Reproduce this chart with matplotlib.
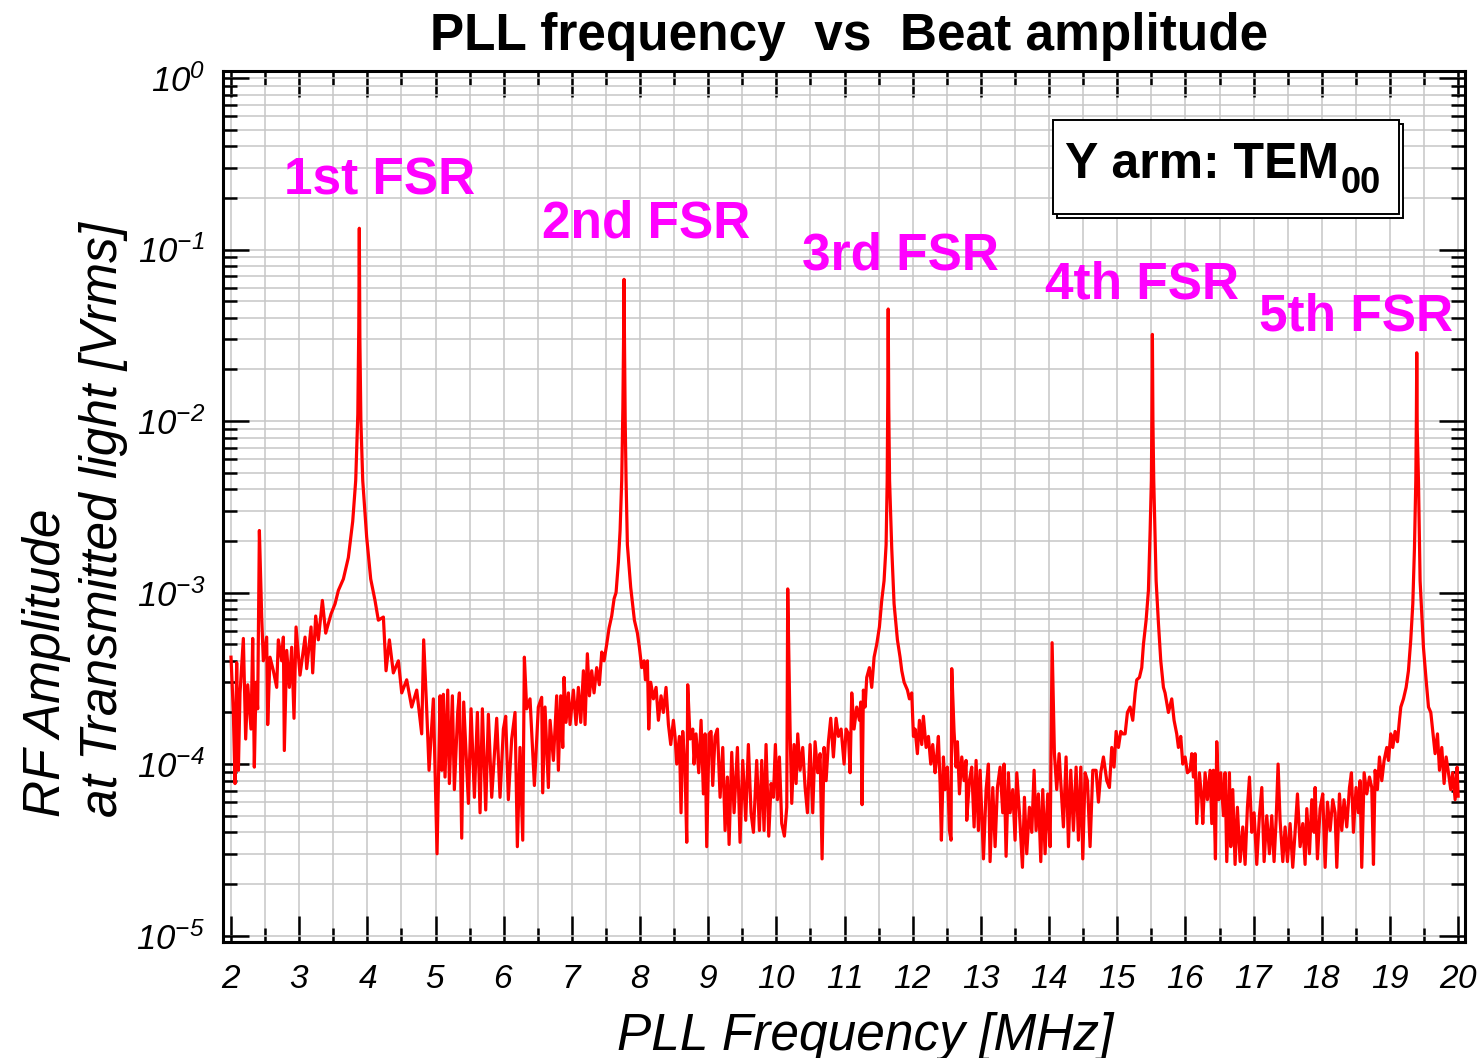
import numpy as np
import matplotlib
matplotlib.use("Agg")
import matplotlib.pyplot as plt
from matplotlib.ticker import FixedLocator, FuncFormatter, NullFormatter
from matplotlib.patches import Rectangle

# spectrum, split between the FSR peaks
# frequency in MHz, amplitude in Vrms
f_seg1 = [2.000, 2.034, 2.059, 2.083, 2.108, 2.132, 2.181, 2.215, 2.245, 2.293,
          2.318, 2.342, 2.367, 2.391, 2.416, 2.450, 2.474, 2.523, 2.538, 2.572,
          2.621, 2.670, 2.694, 2.743, 2.768, 2.782, 2.817, 2.856, 2.890, 2.924,
          2.954, 3.012, 3.086, 3.110, 3.174, 3.198, 3.242, 3.281, 3.340, 3.389,
          3.467, 3.526, 3.575, 3.648, 3.721, 3.785, 3.829, 3.860, 3.874, 3.882]
a_seg1 = [4.2e-4, 2.0e-4, 7.7e-5, 3.9e-4, 9.2e-5, 2.6e-4, 5.4e-4, 1.4e-4, 2.9e-4, 1.6e-4,
          5.4e-4, 9.6e-5, 3.0e-4, 2.1e-4, 2.3e-3, 7.2e-4, 4.0e-4, 5.5e-4, 1.7e-4, 4.2e-4,
          3.5e-4, 2.8e-4, 5.3e-4, 4.0e-4, 5.5e-4, 1.2e-4, 4.6e-4, 2.8e-4, 4.8e-4, 1.85e-4,
          6.3e-4, 3.3e-4, 5.5e-4, 3.6e-4, 6.3e-4, 3.4e-4, 7.3e-4, 5.3e-4, 9.0e-4, 5.8e-4,
          7.5e-4, 8.6e-4, 1.03e-3, 1.2e-3, 1.6e-3, 2.6e-3, 4.5e-3, 1.1e-2, 3.5e-2, 1.33e-1]

f_seg2 = [3.890, 3.905, 3.932, 3.990, 4.049, 4.112, 4.161, 4.235, 4.274, 4.323,
          4.381, 4.455, 4.504, 4.577, 4.650, 4.724, 4.797, 4.826, 4.870, 4.905,
          4.968, 5.022, 5.066, 5.091, 5.115, 5.139, 5.179, 5.203, 5.247, 5.276,
          5.325, 5.350, 5.384, 5.413, 5.482, 5.521, 5.570, 5.614, 5.653, 5.687,
          5.736, 5.775, 5.824, 5.897, 5.946, 5.995, 6.029, 6.068, 6.117, 6.166,
          6.200, 6.239, 6.279, 6.303, 6.337, 6.386, 6.450, 6.508, 6.557, 6.572,
          6.606, 6.631, 6.655, 6.680, 6.729, 6.777, 6.802, 6.836, 6.866, 6.885,
          6.914, 6.949, 6.973, 7.022, 7.061, 7.095, 7.130, 7.169, 7.193, 7.227,
          7.257, 7.291, 7.325, 7.364, 7.403, 7.438, 7.472, 7.511, 7.545, 7.584,
          7.619, 7.648, 7.682, 7.707, 7.731, 7.748, 7.758, 7.765]
a_seg2 = [3.0e-2, 1.0e-2, 4.5e-3, 2.1e-3, 1.2e-3, 9.0e-4, 6.9e-4, 7.2e-4, 3.5e-4, 5.3e-4,
          3.4e-4, 4.0e-4, 2.6e-4, 3.1e-4, 2.15e-4, 2.7e-4, 1.5e-4, 5.3e-4, 2.1e-4, 9.2e-5,
          2.4e-4, 3.0e-5, 2.5e-4, 9.2e-5, 2.55e-4, 8.4e-5, 2.7e-4, 7.7e-5, 2.5e-4, 7.1e-5,
          2.0e-4, 2.6e-4, 3.7e-5, 2.3e-4, 5.9e-5, 2.1e-4, 6.4e-5, 2.0e-4, 5.2e-5, 2.1e-4,
          5.4e-5, 1.95e-4, 6.4e-5, 1.85e-4, 6.4e-5, 1.6e-4, 1.9e-4, 6.2e-5, 1.4e-4, 2.0e-4,
          3.3e-5, 1.25e-4, 3.6e-5, 4.2e-4, 2.1e-4, 2.4e-4, 7.5e-5, 2.15e-4, 2.45e-4, 6.8e-5,
          2.15e-4, 1.25e-4, 7.3e-5, 1.8e-4, 1.05e-4, 2.5e-4, 9.2e-5, 2.5e-4, 1.25e-4, 3.2e-4,
          1.75e-4, 2.6e-4, 1.7e-4, 2.7e-4, 1.7e-4, 2.8e-4, 1.75e-4, 3.5e-4, 1.7e-4, 4.4e-4,
          2.5e-4, 3.5e-4, 2.6e-4, 3.65e-4, 2.9e-4, 4.5e-4, 4.0e-4, 5.0e-4, 6.2e-4, 7.3e-4,
          9.2e-4, 1.0e-3, 1.5e-3, 2.3e-3, 4.5e-3, 1.2e-2, 3.0e-2, 6.7e-2]

f_seg3 = [7.772, 7.782, 7.795, 7.814, 7.863, 7.917, 7.961, 7.990, 8.024, 8.059,
          8.078, 8.108, 8.127, 8.156, 8.196, 8.235, 8.269, 8.308, 8.342, 8.381,
          8.416, 8.450, 8.489, 8.513, 8.538, 8.577, 8.601, 8.626, 8.660, 8.685,
          8.699, 8.734, 8.773, 8.792, 8.821, 8.861, 8.895, 8.929, 8.954, 8.978,
          9.012, 9.042, 9.066, 9.100, 9.135, 9.174, 9.213, 9.247, 9.281, 9.306,
          9.345, 9.379, 9.428, 9.467, 9.506, 9.550, 9.589, 9.628, 9.663, 9.711,
          9.751, 9.785, 9.819, 9.848, 9.888, 9.922, 9.956, 9.985, 10.015, 10.044,
          10.078, 10.117, 10.152, 10.166, 10.201, 10.225, 10.259, 10.289, 10.313, 10.347,
          10.386, 10.421, 10.455, 10.494, 10.533, 10.567, 10.606, 10.641, 10.670, 10.699,
          10.729, 10.763, 10.797, 10.836, 10.875, 10.910, 10.949, 10.993, 11.022, 11.056,
          11.081, 11.105, 11.139, 11.178, 11.218, 11.237, 11.257, 11.276, 11.301, 11.325,
          11.364, 11.398, 11.433, 11.472, 11.511, 11.545, 11.579, 11.609, 11.625, 11.633,
          11.640]
a_seg3 = [2.8e-2, 1.0e-2, 4.5e-3, 1.9e-3, 1.07e-3, 6.9e-4, 5.8e-4, 4.8e-4, 3.65e-4, 4.0e-4,
          3.1e-4, 4.0e-4, 1.6e-4, 3.0e-4, 2.4e-4, 2.8e-4, 1.8e-4, 2.5e-4, 2.0e-4, 2.8e-4,
          1.7e-4, 1.3e-4, 1.8e-4, 1.45e-4, 1.0e-4, 1.45e-4, 5.2e-5, 1.55e-4, 9.2e-5, 3.5e-5,
          2.9e-4, 1.4e-4, 1.6e-4, 1.0e-4, 1.5e-4, 8.9e-5, 1.8e-4, 6.7e-5, 1.5e-4, 3.3e-5,
          1.5e-4, 1.55e-4, 7.5e-5, 1.45e-4, 1.6e-4, 6.4e-5, 1.25e-4, 4.1e-5, 8.4e-5, 3.4e-5,
          1.17e-4, 5.2e-5, 1.25e-4, 3.5e-5, 1.05e-4, 4.7e-5, 1.3e-4, 5.2e-5, 4.0e-5, 1.05e-4,
          4.1e-5, 1.05e-4, 4.1e-5, 1.3e-4, 3.8e-5, 7.7e-5, 6.4e-5, 1.3e-4, 6.2e-5, 1.1e-4,
          4.5e-5, 3.8e-5, 5.6e-5, 1.05e-3, 1.55e-4, 5.9e-5, 1.3e-4, 7.7e-5, 1.5e-4, 9.2e-5,
          1.25e-4, 7.3e-5, 5.2e-5, 1.3e-4, 5.2e-5, 1.35e-4, 8.9e-5, 1.15e-4, 2.8e-5, 1.25e-4,
          8.0e-5, 1.35e-4, 1.85e-4, 1.1e-4, 1.85e-4, 1.45e-4, 1.6e-4, 1.0e-4, 1.6e-4, 1.5e-4,
          8.9e-5, 2.6e-4, 1.6e-4, 2.15e-4, 1.8e-4, 2.3e-4, 5.8e-5, 2.7e-4, 2.15e-4, 3.2e-4,
          3.65e-4, 2.8e-4, 4.2e-4, 5.0e-4, 6.3e-4, 9.0e-4, 1.17e-3, 1.9e-3, 4.5e-3, 1.3e-2,
          4.5e-2]

f_seg4 = [11.648, 11.660, 11.692, 11.726, 11.775, 11.814, 11.839, 11.873, 11.922, 11.951,
          11.985, 12.010, 12.034, 12.068, 12.098, 12.132, 12.156, 12.196, 12.230, 12.264,
          12.293, 12.328, 12.352, 12.376, 12.401, 12.420, 12.450, 12.474, 12.508, 12.538,
          12.562, 12.572, 12.606, 12.636, 12.655, 12.685, 12.719, 12.753, 12.782, 12.792,
          12.831, 12.865, 12.900, 12.929, 12.963, 12.988, 13.037, 13.076, 13.110, 13.134,
          13.174, 13.208, 13.242, 13.281, 13.320, 13.340, 13.369, 13.403, 13.428, 13.467,
          13.501, 13.526, 13.565, 13.609, 13.638, 13.672, 13.711, 13.746, 13.780, 13.809,
          13.843, 13.878, 13.907, 13.941, 13.980, 14.015, 14.044, 14.078, 14.112, 14.147,
          14.186, 14.210, 14.249, 14.284, 14.318, 14.357, 14.396, 14.430, 14.465, 14.494,
          14.528, 14.562, 14.601, 14.641, 14.689, 14.724, 14.758, 14.797, 14.846, 14.885,
          14.919, 14.953, 14.983, 15.017, 15.051, 15.081, 15.115, 15.149, 15.188, 15.227,
          15.262, 15.286, 15.325, 15.359, 15.384, 15.423, 15.457, 15.482, 15.500, 15.508,
          15.515]
a_seg4 = [1.2e-2, 4.5e-3, 1.8e-3, 8.6e-4, 5.3e-4, 4.2e-4, 3.5e-4, 3.0e-4, 2.7e-4, 2.4e-4,
          2.6e-4, 1.45e-4, 1.6e-4, 1.15e-4, 1.8e-4, 1.3e-4, 1.9e-4, 1.25e-4, 1.45e-4, 1.0e-4,
          1.3e-4, 8.9e-5, 1.1e-4, 1.45e-4, 7.7e-5, 3.6e-5, 1.1e-4, 7.1e-5, 9.6e-5, 4.1e-5,
          3.6e-5, 3.6e-4, 1.55e-4, 9.6e-5, 1.35e-4, 6.7e-5, 1.1e-4, 8.0e-5, 1.05e-4, 4.7e-5,
          8.0e-5, 9.6e-5, 4.3e-5, 1.05e-4, 4.1e-5, 9.2e-5, 2.8e-5, 7.1e-5, 1.0e-4, 2.7e-5,
          7.3e-5, 3.3e-5, 7.3e-5, 9.6e-5, 5.2e-5, 1.0e-4, 2.9e-5, 8.9e-5, 5.2e-5, 7.1e-5,
          3.6e-5, 8.9e-5, 5.2e-5, 2.5e-5, 6.4e-5, 3.0e-5, 5.6e-5, 4.0e-5, 9.2e-5, 4.1e-5,
          6.7e-5, 2.7e-5, 7.1e-5, 3.0e-5, 6.7e-5, 3.3e-5, 5.1e-4, 1.15e-4, 7.1e-5, 1.15e-4,
          6.2e-5, 4.3e-5, 1.1e-4, 3.3e-5, 9.2e-5, 4.1e-5, 9.6e-5, 3.6e-5, 9.6e-5, 2.8e-5,
          8.9e-5, 8.0e-5, 3.3e-5, 9.2e-5, 9.2e-5, 6.0e-5, 8.9e-5, 1.1e-4, 8.0e-5, 7.3e-5,
          1.25e-4, 9.6e-5, 1.55e-4, 1.25e-4, 1.55e-4, 1.5e-4, 1.5e-4, 2.0e-4, 2.15e-4, 1.8e-4,
          2.6e-4, 3.1e-4, 3.2e-4, 3.65e-4, 5.0e-4, 6.9e-4, 1.03e-3, 2.3e-3, 4.5e-3, 1.1e-2,
          3.2e-2]

f_seg5 = [15.523, 15.535, 15.570, 15.604, 15.638, 15.677, 15.701, 15.750, 15.799, 15.833,
          15.872, 15.897, 15.931, 15.961, 15.995, 16.029, 16.068, 16.093, 16.117, 16.141,
          16.166, 16.205, 16.239, 16.254, 16.288, 16.322, 16.362, 16.386, 16.410, 16.440,
          16.459, 16.489, 16.518, 16.557, 16.582, 16.606, 16.645, 16.665, 16.694, 16.728,
          16.762, 16.802, 16.841, 16.875, 16.909, 16.939, 16.973, 17.007, 17.046, 17.085,
          17.120, 17.154, 17.193, 17.232, 17.266, 17.300, 17.330, 17.359, 17.388, 17.428,
          17.462, 17.496, 17.535, 17.574, 17.608, 17.643, 17.682, 17.721, 17.755, 17.780,
          17.819, 17.853, 17.887, 17.902, 17.936, 17.975, 18.014, 18.049, 18.083, 18.122,
          18.161, 18.195, 18.220, 18.259, 18.293, 18.327, 18.366, 18.406, 18.435, 18.464,
          18.503, 18.537, 18.562, 18.586, 18.621, 18.660, 18.699, 18.733, 18.758, 18.782,
          18.816, 18.846, 18.880, 18.914, 18.953, 18.978, 19.012, 19.041, 19.075, 19.110,
          19.139, 19.159, 19.198, 19.237, 19.271, 19.305, 19.335, 19.359, 19.379, 19.387,
          19.393]
a_seg5 = [1.0e-2, 4.5e-3, 1.17e-3, 6.6e-4, 4.0e-4, 2.8e-4, 2.6e-4, 2.0e-4, 2.4e-4, 1.8e-4,
          1.5e-4, 1.25e-4, 1.45e-4, 1.0e-4, 1.1e-4, 8.9e-5, 9.2e-5, 1.15e-4, 8.4e-5, 1.15e-4,
          4.5e-5, 8.9e-5, 6.2e-5, 4.5e-5, 8.9e-5, 6.2e-5, 9.2e-5, 4.5e-5, 9.2e-5, 2.8e-5,
          1.35e-4, 6.2e-5, 8.9e-5, 5.0e-5, 8.9e-5, 2.7e-5, 8.9e-5, 3.3e-5, 7.1e-5, 2.6e-5,
          5.6e-5, 2.7e-5, 4.3e-5, 2.6e-5, 5.6e-5, 8.4e-5, 4.0e-5, 5.2e-5, 2.6e-5, 5.0e-5,
          7.3e-5, 2.7e-5, 5.0e-5, 3.0e-5, 5.0e-5, 2.7e-5, 4.7e-5, 1.0e-4, 4.7e-5, 2.7e-5,
          4.3e-5, 2.7e-5, 4.5e-5, 2.5e-5, 4.0e-5, 6.7e-5, 3.3e-5, 4.5e-5, 2.6e-5, 5.5e-5,
          3.0e-5, 6.2e-5, 4.0e-5, 7.3e-5, 2.8e-5, 5.5e-5, 6.7e-5, 2.5e-5, 6.0e-5, 4.1e-5,
          6.2e-5, 5.2e-5, 2.5e-5, 6.7e-5, 4.1e-5, 6.2e-5, 4.3e-5, 7.3e-5, 8.9e-5, 4.0e-5,
          7.3e-5, 5.2e-5, 8.0e-5, 2.5e-5, 8.9e-5, 6.7e-5, 8.4e-5, 7.3e-5, 2.6e-5, 9.2e-5,
          7.1e-5, 1.1e-4, 8.0e-5, 1.05e-4, 1.25e-4, 1.05e-4, 1.5e-4, 1.25e-4, 1.55e-4, 1.35e-4,
          1.8e-4, 2.15e-4, 2.4e-4, 2.8e-4, 3.5e-4, 5.3e-4, 8.6e-4, 1.8e-3, 4.5e-3, 1.0e-2,
          2.5e-2]

f_seg6 = [19.400, 19.418, 19.442, 19.491, 19.530, 19.565, 19.599, 19.628, 19.662, 19.697,
          19.726, 19.760, 19.794, 19.824, 19.858, 19.892, 19.921, 19.956, 19.985, 20.000]
a_seg6 = [9.0e-3, 4.5e-3, 1.17e-3, 4.8e-4, 3.1e-4, 2.15e-4, 2.0e-4, 1.55e-4, 1.15e-4, 1.5e-4,
          9.2e-5, 1.25e-4, 7.7e-5, 1.1e-4, 8.9e-5, 7.1e-5, 8.9e-5, 6.2e-5, 9.6e-5, 6.5e-5]

fsr_labels = ['1st FSR', '2nd FSR', '3rd FSR', '4th FSR', '5th FSR']
fsr_label_x = [2.78, 6.56, 10.38, 13.94, 17.08]
fsr_label_y = [0.208, 0.117, 0.076, 0.0515, 0.0335]

x_ticks = list(range(2, 21))
y_decades = [1e-5, 1e-4, 1e-3, 1e-2, 1e-1, 1e0]

freq = np.concatenate([f_seg1, f_seg2, f_seg3, f_seg4, f_seg5, f_seg6])
amp = np.concatenate([a_seg1, a_seg2, a_seg3, a_seg4, a_seg5, a_seg6])

plt.rcParams['font.family'] = ['Liberation Sans', 'DejaVu Sans']
plt.rcParams['mathtext.fontset'] = 'custom'
plt.rcParams['mathtext.rm'] = 'Liberation Sans:italic'
plt.rcParams['mathtext.it'] = 'Liberation Sans:italic'
plt.rcParams['mathtext.bf'] = 'Liberation Sans:bold'

fig = plt.figure(figsize=(14.82, 10.58), dpi=100)
ax = fig.add_axes([0.1505, 0.1096, 0.838, 0.8233])

ax.semilogy(freq, amp, color='#ff0000', lw=2.3, zorder=3)
ax.set_xlim(1.883, 20.10)
ax.set_ylim(9.17e-6, 1.099)

ax.xaxis.set_major_locator(FixedLocator(x_ticks))
ax.xaxis.set_minor_locator(FixedLocator(np.array(x_ticks[:-1]) + 0.5))
ax.yaxis.set_major_locator(FixedLocator(y_decades))
ax.yaxis.set_minor_locator(FixedLocator([d * k for d in y_decades[:-1] for k in range(2, 10)]))
ax.xaxis.set_major_formatter(FuncFormatter(lambda v, p: f'${int(round(v))}$'))
ax.yaxis.set_major_formatter(FuncFormatter(lambda v, p: f'$10^{{{int(round(np.log10(v)))}}}$'))
ax.yaxis.set_minor_formatter(NullFormatter())

ax.tick_params(which='both', direction='in', top=True, right=True, width=1.8, colors='black')
ax.tick_params(which='major', length=18.5)
ax.tick_params(which='minor', length=10)
ax.tick_params(axis='x', which='major', labelsize=24, pad=16)
ax.tick_params(axis='y', which='major', labelsize=25, pad=13)
for s in ax.spines.values():
    s.set_linewidth(2.2)

ax.grid(which='both', color='#c6c6c6', lw=1.1)
ax.set_axisbelow(True)

for lab, lx, ly in zip(fsr_labels, fsr_label_x, fsr_label_y):
    ax.text(lx, ly, lab, color='#ff00ff', fontsize=37, fontweight='bold',
            ha='left', va='baseline', zorder=4)

# legend-like box with a shadow
bx, by, bw, bh = 0.668, 0.836, 0.279, 0.108
ax.add_patch(Rectangle((bx + 0.0032, by - 0.0046), bw, bh, transform=ax.transAxes,
                       facecolor='white', edgecolor='black', lw=1.4, zorder=5))
ax.add_patch(Rectangle((bx, by), bw, bh, transform=ax.transAxes,
                       facecolor='white', edgecolor='black', lw=1.4, zorder=6))
box_txt = ax.text(0.678, 0.877, 'Y arm: TEM', transform=ax.transAxes,
                  fontsize=36, fontweight='bold', ha='left', va='baseline', zorder=7)
fig.canvas.draw()
ext = box_txt.get_window_extent()
sub_x = ax.transAxes.inverted().transform((ext.x1 + 1, 0))[0]
ax.text(sub_x, 0.877 - 15 / 871, '00', transform=ax.transAxes,
        fontsize=26, fontweight='bold', ha='left', va='baseline', zorder=7)

fig.text(0.573, 0.9527, 'PLL frequency  vs  Beat amplitude', fontsize=37,
         fontweight='bold', ha='center', va='baseline')
fig.text(0.5837, 0.008, 'PLL Frequency [MHz]', fontsize=37, fontstyle='italic',
         ha='center', va='baseline')
fig.text(0.0405, 0.2278, 'RF Amplitude', fontsize=37, fontstyle='italic',
         rotation=90, rotation_mode='anchor', ha='left', va='baseline')
fig.text(0.0789, 0.2278, 'at Transmitted light [Vrms]', fontsize=37, fontstyle='italic',
         rotation=90, rotation_mode='anchor', ha='left', va='baseline')

fig.savefig('out.png', dpi=100)
